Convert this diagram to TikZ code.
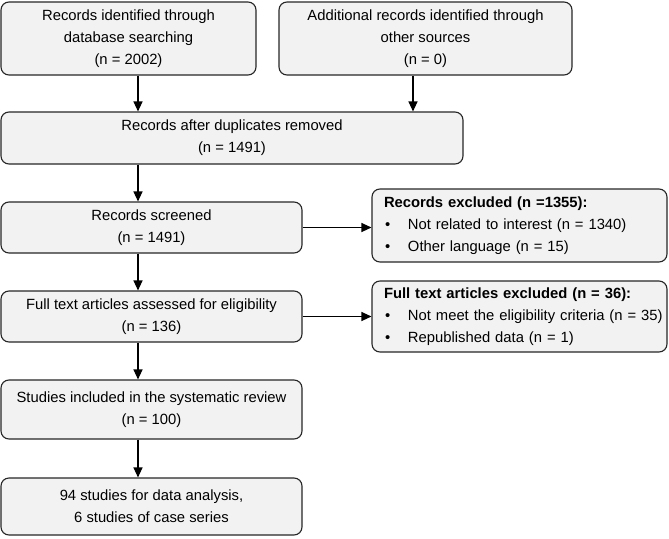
\documentclass[tikz,border=0pt]{standalone}
\usepackage{fontspec}
\setmainfont{Liberation Sans}
\usetikzlibrary{arrows.meta}

\newcommand{\exhead}[1]{\hspace*{12pt}\textbf{#1}}
\newcommand{\exitem}{\hspace*{12pt}\makebox[24pt][l]{\hspace{1pt}\textbullet}}

\begin{document}
\begin{tikzpicture}[
    x=1pt, y=-1pt,
    font=\fontsize{14.8}{21.7}\selectfont,
    % boxes
    box/.style={rectangle, rounded corners=8pt, draw=black!85, line width=1.1pt,
        fill=gray!10, align=center, inner sep=0pt},
    exbox/.style={box, align=left, text width=295pt, inner xsep=0pt},
    arr/.style={draw, line width=1.2pt, -{Triangle[width=9pt,length=10pt]}},
]
\useasboundingbox (0,0) rectangle (669,538);

% =========================================================
% Identification
% =========================================================
\node[box, minimum width=255pt, minimum height=73pt] (ident) at (128.5, 38.5)
    {Records identified through\\database searching\\(n = 2002)};
\node[box, minimum width=293pt, minimum height=73pt] (other) at (425.5, 38.5)
    {Additional records identified through\\other sources\\(n = 0)};
\node[box, minimum width=462pt, minimum height=52pt] (dup) at (232, 138)
    {Records after duplicates removed\\(n = 1491)};

% =========================================================
% Screening and eligibility
% =========================================================
\node[box, minimum width=301pt, minimum height=51pt] (screen) at (151.5, 227.5)
    {Records screened\\(n = 1491)};
\node[box, minimum width=301pt, minimum height=51pt] (full) at (151.5, 316.5)
    {Full text articles assessed for eligibility\\(n = 136)};

% excluded
\node[exbox, minimum height=73pt] (excl1) at (519.5, 225.5)
    {\exhead{Records excluded (n =1355):}\\
     \exitem Not related to interest (n = 1340)\\
     \exitem Other language (n = 15)};
\node[exbox, minimum height=71pt] (excl2) at (519.5, 316.5)
    {\exhead{Full text articles excluded (n = 36):}\\
     \exitem Not meet the eligibility criteria (n = 35)\\
     \exitem Republished data (n = 1)};

% =========================================================
% Included
% =========================================================
\node[box, minimum width=301pt, minimum height=59pt] (incl) at (151.5, 409.5)
    {Studies included in the systematic review\\(n = 100)};
\node[box, minimum width=301pt, minimum height=57pt] (final) at (151.5, 506.5)
    {94 studies for data analysis,\\6 studies of case series};

% arrow columns
\coordinate (colL) at (138, 0);
\coordinate (colR) at (413, 0);

% edges
\draw[arr] (ident.south -| colL) -- (dup.north -| colL);
\draw[arr] (other.south -| colR) -- (dup.north -| colR);
\draw[arr] (dup.south -| colL) -- (screen.north -| colL);
\draw[arr] (screen.south -| colL) -- (full.north -| colL);
\draw[arr] (full.south -| colL) -- (incl.north -| colL);
\draw[arr] (incl.south -| colL) -- (final.north -| colL);

\draw[arr] (screen.east) -- (screen.east -| excl1.west);
\draw[arr] (full.east) -- (full.east -| excl2.west);

\end{tikzpicture}
\end{document}
